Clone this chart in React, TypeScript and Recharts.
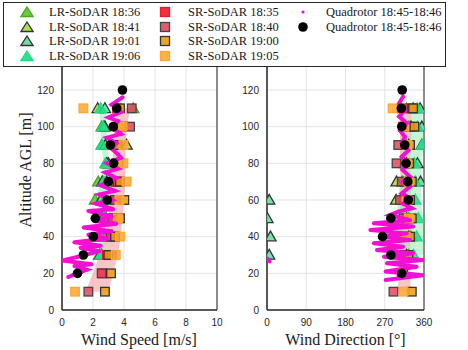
import React from "react";
import {
  ScatterChart,
  Scatter,
  XAxis,
  YAxis,
  CartesianGrid,
  ReferenceArea,
} from "recharts";

// altitudes [m]
const sodarAlt = [10, 20, 30, 40, 50, 60, 70, 80, 90, 100, 110];
const lrAlt = [30, 40, 50, 60, 70, 80, 90, 100, 110];
const quadAlt = [20, 30, 40, 50, 60, 70, 80, 90, 100, 110, 120];

// LR-SoDAR wind speed [m/s]
const lr1836Speed = [2.4, 2.6, 2.73, 2.13, 2.34, 2.88, 2.56, 2.56, 4.6];
const lr1841Speed = [2.55, 2.7, 2.85, 2.73, 2.88, 3.0, 4.17, 2.77, 2.3];
const lr1901Speed = [2.45, 2.55, 2.6, 2.5, 2.6, 2.9, 2.8, 2.7, 2.77];
const lr1906Speed = [2.5, 2.62, 2.8, 2.8, 2.7, 2.8, 2.6, 2.65, 2.5];
// LR-SoDAR wind direction [deg]
const lr1836Dir = [325, 330, 325, 315, 310, 315, 320, 325, 320];
const lr1841Dir = [320, 325, 320, 296, 297, 320, 325, 330, 335];
const lr1901Dir = [5, 8, 1, 5, 352, 345, 355, 355, 351];
const lr1906Dir = [336, 343, 347, 340, 340, 338, 356, 345, 345];

// SR-SoDAR wind speed [m/s]
const sr1835Speed = [null, 2.6, 2.9, 3.3, 3.3, 3.5, 3.5, 3.5, 3.45, 3.6, 3.55];
const sr1840Speed = [1.7, 2.56, 3.2, 3.16, 3.25, 3.42, 3.6, 3.6, 3.6, 4.39, 4.5];
const sr1900Speed = [2.77, 3.16, 2.99, 3.42, 3.74, 4.02, 3.74, 3.63, 3.53, 3.85, 3.74];
const sr1905Speed = [0.84, null, 3.47, 3.74, 3.6, 3.7, 4.17, 3.96, 3.96, 3.9, 1.38];
// SR-SoDAR wind direction [deg]
const sr1835Dir = [null, 310, 305, 313, 320, 313, 322, 316, 319, 312, 309];
const sr1840Dir = [290, 309, 309, 301, 313, 305, 309, 297, 301, 328, 332];
const sr1900Dir = [332, 312, 324, 328, 332, 328, 332, 326, 328, 338, 335];
const sr1905Dir = [313, null, 293, 318, 325, 320, 325, 320, 322, 315, 288];

// spread bands
const srSpeedLo = [1.5, 2.0, 2.4, 2.8, 3.0, 3.1, 3.2, 3.3, 3.3, 3.4, 3.5];
const srSpeedHi = [3.0, 3.3, 3.6, 3.8, 3.9, 4.0, 4.1, 4.1, 4.1, 4.2, 4.4];
const srDirLo = [300, 302, 303, 303, 305, 305, 306, 305, 305, 305, 304];
const srDirHi = [330, 328, 328, 330, 330, 330, 330, 328, 330, 332, 332];
const lrSpeedLo = [2.35, 2.45, 2.5, 2.3, 2.4, 2.7, 2.5, 2.5, 2.4];
const lrSpeedHi = [2.65, 2.8, 2.9, 2.85, 2.9, 3.0, 3.0, 2.8, 2.9];
const lrDirLo = [295, 295, 298, 300, 305, 320, 325, 330, 335];
const lrDirHi = [358, 358, 358, 352, 355, 355, 358, 358, 355];

// quadrotor averages
const quadSpeed = [1.0, 1.38, 2.02, 2.15, 2.92, 2.99, 3.33, 3.12, 3.31, 3.53, 3.9];
const quadDir = [309, 284, 265, 284, 324, 323, 319, 316, 309, 308, 310];

// quadrotor raw trace
const traceSpeedAlt = [116, 112, 108, 105, 103, 99, 96, 94, 91, 88, 85, 83, 80, 77, 75, 72, 68, 65, 63, 60, 58, 55, 54, 51, 49, 47, 45, 43, 41, 39, 37, 35, 34, 32, 29, 27, 25, 24, 22, 20, 18];
const traceSpeed = [3.9, 3.2, 3.8, 3.0, 3.6, 3.3, 3.8, 2.9, 3.5, 3.2, 3.6, 3.8, 2.9, 3.6, 2.8, 3.5, 2.5, 3.4, 2.4, 3.2, 2.2, 3.3, 1.7, 3.2, 2.1, 3.5, 1.4, 3.2, 1.7, 2.9, 0.8, 2.5, 1.2, 2.4, 1.0, 0.0, 1.9, 0.8, 1.6, 1.0, 0.4];
const traceDirAlt = [116.4, 112.7, 109, 105.5, 101.8, 98, 94.5, 91, 87, 83.6, 80, 76.4, 72.7, 70, 67.3, 63.6, 61, 58, 55.5, 53.6, 51.8, 49, 47.3, 45.5, 43.6, 41.8, 40, 38.2, 36.4, 34.5, 32.7, 31, 29, 27.3, 25.5, 23.6, 21, 19, 16.4];
const traceDir = [312, 303, 316, 303, 320, 305, 316, 309, 324, 309, 324, 311, 328, 312, 328, 309, 328, 312, 332, 301, 282, 328, 245, 335, 237, 320, 260, 328, 245, 312, 252, 335, 268, 358, 275, 343, 272, 358, 272];
const traceWrapAlt = [28, 26.5];
const traceWrapDir = [1, 6];

const speedTicks = [0, 2, 4, 6, 8, 10];
const dirTicks = [0, 90, 180, 270, 360];
const altTicks = [0, 20, 40, 60, 80, 100, 120];

const MAG = "#f50fd2";
const C = {
  lr1836: ["#5bc424", "#4aa51c"],
  lr1841: ["#a6dc3e", "#333333"],
  lr1901: ["#5fdc98", "#333333"],
  lr1906: ["#1edc86", "#1edc86"],
  sr1835: ["#ee1a2c", "#ee1a2c"],
  sr1840: ["#e0485a", "#444444"],
  sr1900: ["#ee9a10", "#333333"],
  sr1905: ["#ffa733", "#ffa733"],
};

const pts = (alts: number[], vals: (number | null)[]) =>
  alts
    .map((a, i) => ({ alt: a, v: vals[i] }))
    .filter((p) => p.v !== null && p.v !== undefined);

// closed outline: low edge upwards, high edge back down
const bandOutline = (alts: number[], lo: number[], hi: number[]) => [
  ...alts.map((a, i) => ({ alt: a, v: lo[i] })),
  ...alts.map((a, i) => ({ alt: a, v: hi[i] })).reverse(),
];

const bandFill = (fill: string, opacity: number) => (lp: any) => {
  const p = (lp.points || []).map((q: any) => `${q.x},${q.y}`).join(" ");
  return <polygon points={p} fill={fill} fillOpacity={opacity} stroke="none" />;
};

const noShape = () => <g />;

const triShape = (fill: string, edge: string) => (p: any) => {
  const { cx, cy } = p;
  const r = 5.6;
  return (
    <polygon
      points={`${cx},${cy - r} ${cx + r},${cy + r * 0.75} ${cx - r},${cy + r * 0.75}`}
      fill={fill}
      fillOpacity={0.85}
      stroke={edge}
      strokeWidth={1.3}
    />
  );
};

const sqShape = (fill: string, edge: string) => (p: any) => {
  const { cx, cy } = p;
  const r = 4.3;
  return (
    <rect
      x={cx - r}
      y={cy - r}
      width={2 * r}
      height={2 * r}
      fill={fill}
      fillOpacity={0.85}
      stroke={edge}
      strokeWidth={1.3}
    />
  );
};

const dotShape = (p: any) => <circle cx={p.cx} cy={p.cy} r={4.8} fill="#000" />;
const traceShape = (p: any) => <circle cx={p.cx} cy={p.cy} r={2} fill={MAG} />;

const tickStyle = { fontFamily: "Liberation Sans, Arial", fontSize: 10, fill: "#262626" };

type Pt = { alt: number; v: number | null };
type PanelProps = {
  left: number;
  margin: { top: number; right: number; bottom: number; left: number };
  yWidth: number;
  xMax: number;
  xTicks: number[];
  srBand: Pt[];
  lrBand: Pt[];
  lr: { key: keyof typeof C; vals: number[] }[];
  sr: { key: keyof typeof C; vals: (number | null)[] }[];
  trace: Pt[];
  wrap: Pt[] | null;
  dots: Pt[];
};

function Panel(props: PanelProps) {
  const { left, margin, yWidth, xMax, xTicks, srBand, lrBand, lr, sr, trace, wrap, dots } = props;
  return (
    <div style={{ position: "absolute", left, top: 0 }}>
      <ScatterChart width={234} height={350} margin={margin}>
        <CartesianGrid stroke="#e3e3e3" />
        <XAxis
          type="number"
          dataKey="v"
          domain={[0, xMax]}
          allowDataOverflow
          ticks={xTicks}
          tickLine={false}
          tickSize={4}
          tickMargin={5}
          height={30}
          axisLine={{ stroke: "#262626" }}
          tick={tickStyle}
          interval={0}
        />
        <YAxis
          type="number"
          dataKey="alt"
          domain={[0, 150]}
          allowDataOverflow
          ticks={altTicks}
          tickLine={false}
          tickSize={4}
          tickMargin={4}
          width={yWidth}
          axisLine={{ stroke: "#262626" }}
          tick={tickStyle}
          interval={0}
        />
        <Scatter
          data={srBand}
          line={bandFill("#f3a3a3", 0.62)}
          lineJointType="linear"
          shape={noShape}
          isAnimationActive={false}
        />
        <Scatter
          data={lrBand}
          line={bandFill("#95eeb0", 0.55)}
          lineJointType="linear"
          shape={noShape}
          isAnimationActive={false}
        />
        {lr.map((s) => (
          <Scatter
            key={s.key}
            data={pts(lrAlt, s.vals)}
            shape={triShape(C[s.key][0], C[s.key][1])}
            isAnimationActive={false}
          />
        ))}
        {sr.map((s) => (
          <Scatter
            key={s.key}
            data={pts(sodarAlt, s.vals)}
            shape={sqShape(C[s.key][0], C[s.key][1])}
            isAnimationActive={false}
          />
        ))}
        <Scatter
          data={trace}
          line={{ stroke: MAG, strokeWidth: 4 }}
          lineJointType="linear"
          shape={traceShape}
          isAnimationActive={false}
        />
        {wrap && (
          <Scatter
            data={wrap}
            line={{ stroke: MAG, strokeWidth: 4 }}
            lineJointType="linear"
            shape={traceShape}
            isAnimationActive={false}
          />
        )}
        <Scatter data={dots} shape={dotShape} isAnimationActive={false} />
        <ReferenceArea
          x1={0}
          x2={xMax}
          y1={0}
          y2={150}
          fill="none"
          fillOpacity={0}
          stroke="#262626"
          strokeOpacity={1}
          ifOverflow="visible"
        />
      </ScatterChart>
    </div>
  );
}

const LegendTri = ({ fill, edge }: { fill: string; edge: string }) => (
  <svg width={14} height={12} style={{ display: "block" }}>
    <polygon points="7,1 13,10.5 1,10.5" fill={fill} fillOpacity={0.9} stroke={edge} strokeWidth={1.3} />
  </svg>
);
const LegendSq = ({ fill, edge }: { fill: string; edge: string }) => (
  <svg width={12} height={12} style={{ display: "block" }}>
    <rect x={1.5} y={1.5} width={9} height={9} fill={fill} fillOpacity={0.9} stroke={edge} strokeWidth={1.3} />
  </svg>
);

const legendRows = [
  { col: 0, row: 0, label: "LR-SoDAR 18:36", icon: <LegendTri fill={C.lr1836[0]} edge={C.lr1836[1]} /> },
  { col: 0, row: 1, label: "LR-SoDAR 18:41", icon: <LegendTri fill={C.lr1841[0]} edge={C.lr1841[1]} /> },
  { col: 0, row: 2, label: "LR-SoDAR 19:01", icon: <LegendTri fill={C.lr1901[0]} edge={C.lr1901[1]} /> },
  { col: 0, row: 3, label: "LR-SoDAR 19:06", icon: <LegendTri fill={C.lr1906[0]} edge={C.lr1906[1]} /> },
  { col: 1, row: 0, label: "SR-SoDAR 18:35", icon: <LegendSq fill={C.sr1835[0]} edge={C.sr1835[1]} /> },
  { col: 1, row: 1, label: "SR-SoDAR 18:40", icon: <LegendSq fill={C.sr1840[0]} edge={C.sr1840[1]} /> },
  { col: 1, row: 2, label: "SR-SoDAR 19:00", icon: <LegendSq fill={C.sr1900[0]} edge={C.sr1900[1]} /> },
  { col: 1, row: 3, label: "SR-SoDAR 19:05", icon: <LegendSq fill={C.sr1905[0]} edge={C.sr1905[1]} /> },
  {
    col: 2,
    row: 0,
    label: "Quadrotor 18:45-18:46",
    icon: (
      <svg width={12} height={12} style={{ display: "block" }}>
        <circle cx={6} cy={6} r={1.6} fill={MAG} />
      </svg>
    ),
  },
  {
    col: 2,
    row: 1,
    label: "Quadrotor 18:45-18:46",
    icon: (
      <svg width={12} height={12} style={{ display: "block" }}>
        <circle cx={6} cy={6} r={4.8} fill="#000" />
      </svg>
    ),
  },
];

const colIcon = [27, 165, 303];
const colText = [49, 188, 326];
const rowY = [11.5, 26.5, 41, 56];

const serif = "'Liberation Serif', 'Times New Roman', serif";

export default function App() {
  return (
    <div
      style={{
        position: "fixed",
        left: 0,
        top: 0,
        width: 468,
        height: 350,
        background: "#fff",
        overflow: "hidden",
      }}
    >
      <Panel
        left={0}
        margin={{ top: 35, right: 17, bottom: 10, left: 22 }}
        yWidth={40}
        xMax={10}
        xTicks={speedTicks}
        srBand={bandOutline(sodarAlt, srSpeedLo, srSpeedHi)}
        lrBand={bandOutline(lrAlt, lrSpeedLo, lrSpeedHi)}
        lr={[
          { key: "lr1836", vals: lr1836Speed },
          { key: "lr1841", vals: lr1841Speed },
          { key: "lr1901", vals: lr1901Speed },
          { key: "lr1906", vals: lr1906Speed },
        ]}
        sr={[
          { key: "sr1835", vals: sr1835Speed },
          { key: "sr1840", vals: sr1840Speed },
          { key: "sr1900", vals: sr1900Speed },
          { key: "sr1905", vals: sr1905Speed },
        ]}
        trace={pts(traceSpeedAlt, traceSpeed)}
        wrap={null}
        dots={pts(quadAlt, quadSpeed)}
      />
      <Panel
        left={234}
        margin={{ top: 35, right: 44, bottom: 10, left: 5 }}
        yWidth={28}
        xMax={360}
        xTicks={dirTicks}
        srBand={bandOutline(sodarAlt, srDirLo, srDirHi)}
        lrBand={bandOutline(lrAlt, lrDirLo, lrDirHi)}
        lr={[
          { key: "lr1836", vals: lr1836Dir },
          { key: "lr1841", vals: lr1841Dir },
          { key: "lr1901", vals: lr1901Dir },
          { key: "lr1906", vals: lr1906Dir },
        ]}
        sr={[
          { key: "sr1835", vals: sr1835Dir },
          { key: "sr1840", vals: sr1840Dir },
          { key: "sr1900", vals: sr1900Dir },
          { key: "sr1905", vals: sr1905Dir },
        ]}
        trace={pts(traceDirAlt, traceDir)}
        wrap={pts(traceWrapAlt, traceWrapDir)}
        dots={pts(quadAlt, quadDir)}
      />

      {/* axis titles */}
      <div
        style={{
          position: "absolute",
          left: 139,
          top: 340,
          transform: "translate(-50%, -50%)",
          fontFamily: serif,
          fontSize: 16,
          color: "#1a1a1a",
          whiteSpace: "nowrap",
        }}
      >
        Wind Speed [m/s]
      </div>
      <div
        style={{
          position: "absolute",
          left: 345.5,
          top: 340,
          transform: "translate(-50%, -50%)",
          fontFamily: serif,
          fontSize: 16,
          color: "#1a1a1a",
          whiteSpace: "nowrap",
        }}
      >
        Wind Direction [°]
      </div>
      <div
        style={{
          position: "absolute",
          left: 26,
          top: 170,
          transform: "translate(-50%, -50%) rotate(-90deg)",
          fontFamily: serif,
          fontSize: 16,
          color: "#1a1a1a",
          whiteSpace: "nowrap",
        }}
      >
        Altitude AGL [m]
      </div>

      {/* legend */}
      <div
        style={{
          position: "absolute",
          left: 3,
          top: 2,
          width: 441,
          height: 63,
          border: "1px solid #262626",
          background: "#fff",
        }}
      />
      {legendRows.map((r, i) => (
        <React.Fragment key={i}>
          <div
            style={{
              position: "absolute",
              left: colIcon[r.col],
              top: rowY[r.row],
              transform: "translate(-50%, -50%)",
            }}
          >
            {r.icon}
          </div>
          <div
            style={{
              position: "absolute",
              left: colText[r.col],
              top: rowY[r.row],
              transform: "translateY(-50%)",
              fontFamily: serif,
              fontSize: 12.5,
              color: "#1a1a1a",
              whiteSpace: "nowrap",
              lineHeight: "14px",
            }}
          >
            {r.label}
          </div>
        </React.Fragment>
      ))}
    </div>
  );
}
